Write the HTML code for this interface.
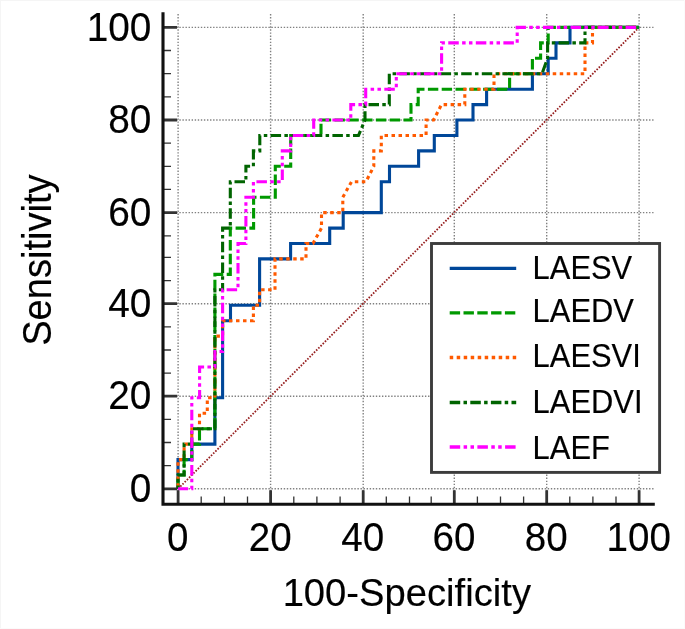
<!DOCTYPE html>
<html><head><meta charset="utf-8"><title>ROC curves</title>
<style>html,body{margin:0;padding:0;background:#fff;}body{width:685px;height:629px;overflow:hidden;font-family:"Liberation Sans",sans-serif;}svg{display:block;will-change:transform;}</style>
</head><body>
<svg width="685" height="629" viewBox="0 0 685 629">
<rect width="685" height="629" fill="#fff"/>
<path d="M0 0.5H685M0.5 0V629" stroke="#f5f5f5" stroke-width="1" fill="none"/>
<path d="M0 628.5H685M684.5 0V629" stroke="#fbfbfb" stroke-width="1" fill="none"/>
<path d="M178.1 14V503 M164 488.8H653.5 M270.6 14V503 M164 396.2H653.5 M363.2 14V503 M164 303.7H653.5 M454.3 14V503 M164 212.6H653.5 M546.7 14V503 M164 120.0H653.5 M639.1 14V503 M164 27.4H653.5" stroke="#808080" stroke-width="1.4" stroke-dasharray="1.4 1.67" fill="none"/>
<path d="M178.1 488.8L639.1 27.4" stroke="#961e1e" stroke-width="1.8" stroke-dasharray="1.6 1.5" fill="none"/>
<path d="M178.0 488.8 L178.0 459.6 L191.8 459.6 L191.8 444.1 L214.9 444.1 L214.9 397.8 L222.6 397.8 L222.6 320.7 L230.5 320.7 L230.5 305.2 L259.6 305.2 L259.6 258.9 L290.6 258.9 L290.6 243.5 L329.7 243.5 L329.7 228.1 L343.2 228.1 L343.2 212.6 L381.3 212.6 L381.3 181.8 L389.5 181.8 L389.5 166.3 L418.6 166.3 L418.6 150.9 L434.3 150.9 L434.3 135.5 L456.9 135.5 L456.9 120.0 L473.0 120.0 L473.0 104.6 L486.6 104.6 L486.6 89.2 L532.4 89.2 L532.4 73.7 L548.2 73.7 L548.2 58.3 L556.0 58.3 L556.0 42.9 L570.0 42.9 L570.0 27.4 L639.1 27.4" stroke="#004799" stroke-width="3.1" fill="none" stroke-linejoin="miter"/>
<path d="M178.0 488.8 L178.0 475.0 L184.1 475.0 L184.1 459.6 L191.8 459.6 L191.8 444.1 L199.5 444.1 L199.5 428.7 L214.9 428.7 L214.9 274.4 L230.3 274.4 L230.3 228.1 L253.6 228.1 L253.6 197.2 L275.3 197.2 L275.3 166.3 L290.7 166.3 L290.7 135.5 L321.0 135.5 L321.0 120.0 L411.0 120.0 L411.0 104.6 L418.2 104.6 L418.2 89.2 L509.6 89.2 L509.6 73.7 L532.4 73.7 L532.4 58.3 L540.6 58.3 L540.6 42.9 L548.2 42.9 L548.2 27.4 L639.1 27.4" stroke="#009900" stroke-width="3.1" fill="none" stroke-linejoin="miter" stroke-dasharray="10.4 3.4" stroke-dashoffset="-0.9"/>
<path d="M178.0 488.8 L178.0 459.6 L184.1 459.6 L184.1 444.1 L191.8 444.1 L191.8 428.7 L199.5 428.7 L199.5 413.3 L207.3 413.3 L207.3 397.8 L214.9 397.8 L214.9 336.1 L222.6 336.1 L222.6 320.7 L253.4 320.7 L253.4 305.2 L259.6 305.2 L259.6 289.8 L275.0 289.8 L275.0 258.9 L306.0 258.9 L306.0 243.5 L313.0 243.5 L321.5 228.1 L321.5 212.6 L342.8 212.6 L342.8 197.2 L351.5 181.8 L365.9 181.8 L373.8 166.3 L373.8 150.9 L381.3 150.9 L381.3 135.5 L426.1 135.5 L426.1 120.0 L433.6 120.0 L441.5 104.6 L464.8 104.6 L464.8 89.2 L494.0 89.2 L494.0 73.7 L585.0 73.7 L585.0 42.9 L592.5 42.9 L592.5 27.4 L639.1 27.4" stroke="#ff5a00" stroke-width="3.1" fill="none" stroke-linejoin="miter" stroke-dasharray="3.5 3.5" stroke-dashoffset="-2.1"/>
<path d="M178.0 488.8 L178.0 475.0 L184.1 475.0 L184.1 444.1 L191.8 444.1 L191.8 428.7 L214.9 428.7 L214.9 289.8 L222.6 289.8 L222.6 228.1 L230.3 228.1 L230.3 181.8 L245.9 181.8 L245.9 166.3 L253.4 166.3 L253.4 150.9 L259.8 150.9 L259.8 135.5 L358.5 135.5 L365.0 120.0 L365.0 104.6 L389.3 104.6 L389.3 73.7 L542.0 73.7 L547.6 58.3 L547.6 42.9 L585.0 42.9 L585.0 27.4 L639.1 27.4" stroke="#006400" stroke-width="3.1" fill="none" stroke-linejoin="miter" stroke-dasharray="10.5 3.3 3.5 3.3" stroke-dashoffset="7.3"/>
<path d="M178.0 488.8 L191.8 488.8 L191.8 397.8 L199.6 397.8 L199.6 367.0 L214.9 367.0 L214.9 351.5 L222.6 351.5 L222.6 289.8 L238.0 289.8 L238.0 243.5 L245.9 243.5 L245.9 197.2 L253.4 197.2 L253.4 181.8 L282.3 181.8 L282.3 150.9 L290.7 150.9 L290.7 135.5 L313.7 135.5 L313.7 120.0 L350.8 120.0 L350.8 104.6 L365.7 104.6 L365.7 89.2 L396.3 89.2 L396.3 73.7 L441.6 73.7 L441.6 42.9 L517.2 42.9 L517.2 27.4 L639.1 27.4" stroke="#ff00ff" stroke-width="3.1" fill="none" stroke-linejoin="miter" stroke-dasharray="10.5 3.35 3.5 3.35 3.5 3.36" stroke-dashoffset="0.4"/>
<path d="M163 488.8H177 M178.1 504.3V490.2 M163 396.2H177 M270.6 504.3V490.2 M163 303.7H177 M363.2 504.3V490.2 M163 212.6H177 M454.3 504.3V490.2 M163 120.0H177 M546.7 504.3V490.2 M163 27.4H177 M639.1 504.3V490.2" stroke="#333" stroke-width="2.8" fill="none"/>
<path d="M163 465.7H171 M201.2 504.3V496.5 M163 442.5H171 M224.4 504.3V496.5 M163 419.4H171 M247.5 504.3V496.5 M163 373.1H171 M293.8 504.3V496.5 M163 350.0H171 M316.9 504.3V496.5 M163 326.8H171 M340.1 504.3V496.5 M163 280.6H171 M386.3 504.3V496.5 M163 257.4H171 M409.5 504.3V496.5 M163 235.8H171 M431.2 504.3V496.5 M163 189.4H171 M477.4 504.3V496.5 M163 166.3H171 M500.5 504.3V496.5 M163 143.2H171 M523.6 504.3V496.5 M163 96.8H171 M569.8 504.3V496.5 M163 73.7H171 M592.9 504.3V496.5 M163 50.5H171 M616.0 504.3V496.5" stroke="#333" stroke-width="1.3" fill="none"/>
<path d="M163 12.3V504.3H654.8" stroke="#111" stroke-width="3.1" fill="none" stroke-linejoin="miter"/>
<g font-family="Liberation Sans, sans-serif" fill="#000" stroke="#000" stroke-width="0.15">
<text transform="translate(151.4 502.0) scale(1 1.060)" font-size="38.8" text-anchor="end">0</text>
<text transform="translate(177.7 551.3) scale(1 1.045)" font-size="38.6" text-anchor="middle">0</text>
<text transform="translate(151.4 409.4) scale(1 1.060)" font-size="38.8" text-anchor="end">20</text>
<text transform="translate(270.2 551.3) scale(1 1.045)" font-size="38.6" text-anchor="middle">20</text>
<text transform="translate(151.4 316.9) scale(1 1.060)" font-size="38.8" text-anchor="end">40</text>
<text transform="translate(362.8 551.3) scale(1 1.045)" font-size="38.6" text-anchor="middle">40</text>
<text transform="translate(151.4 225.8) scale(1 1.060)" font-size="38.8" text-anchor="end">60</text>
<text transform="translate(453.9 551.3) scale(1 1.045)" font-size="38.6" text-anchor="middle">60</text>
<text transform="translate(151.4 133.2) scale(1 1.060)" font-size="38.8" text-anchor="end">80</text>
<text transform="translate(546.3 551.3) scale(1 1.045)" font-size="38.6" text-anchor="middle">80</text>
<text transform="translate(151.4 40.6) scale(1 1.060)" font-size="38.8" text-anchor="end">100</text>
<text transform="translate(638.7 551.3) scale(1 1.045)" font-size="38.6" text-anchor="middle">100</text>
<text transform="translate(406.8 606.2) scale(1 1.025)" font-size="38.2" text-anchor="middle">100-Specificity</text>
<text transform="translate(51.4 260.1) rotate(-90) scale(1 1.060)" font-size="38.1" text-anchor="middle">Sensitivity</text>
</g>
<rect x="431.5" y="243.5" width="228.1" height="228.9" fill="#fff" stroke="#3c3c3c" stroke-width="2.9"/>
<g font-family="Liberation Sans, sans-serif" fill="#000" stroke="#000" stroke-width="0.15">
<path d="M449.7 268.3H516.2" stroke="#004799" stroke-width="3.3" fill="none"/>
<text transform="translate(532.6 278.6) scale(1 1.085)" font-size="30.9" text-anchor="start">LAESV</text>
<path d="M449.7 312.8H516.2" stroke="#009900" stroke-width="3.3" fill="none" stroke-dasharray="10.4 3.4"/>
<text transform="translate(532.6 321.7) scale(1 1.085)" font-size="30.9" text-anchor="start">LAEDV</text>
<path d="M449.7 357.5H516.2" stroke="#ff5a00" stroke-width="3.3" fill="none" stroke-dasharray="3.5 3.5"/>
<text transform="translate(532.6 367.1) scale(1 1.085)" font-size="30.9" text-anchor="start">LAESVI</text>
<path d="M449.7 402.5H516.2" stroke="#006400" stroke-width="3.3" fill="none" stroke-dasharray="10.5 3.3 3.5 3.3"/>
<text transform="translate(532.6 413.2) scale(1 1.085)" font-size="30.9" text-anchor="start">LAEDVI</text>
<path d="M449.7 447.0H516.2" stroke="#ff00ff" stroke-width="3.3" fill="none" stroke-dasharray="10.5 3.4 3.5 3.4 3.5 3.4"/>
<text transform="translate(532.6 459.2) scale(1 1.085)" font-size="30.9" text-anchor="start">LAEF</text>
</g>
</svg>
</body></html>
